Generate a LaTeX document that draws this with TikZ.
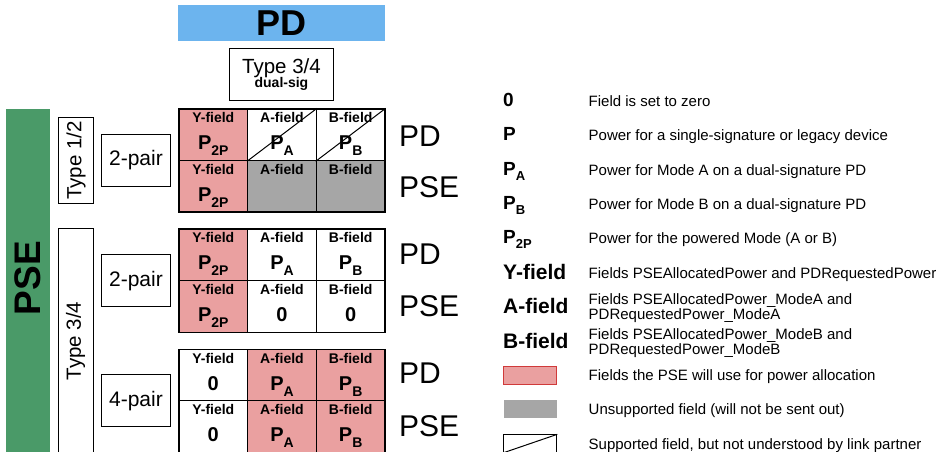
\documentclass[tikz,border=0pt]{standalone}
\usepackage{fontspec}
\setmainfont{Liberation Sans}
\usetikzlibrary{calc}
\definecolor{pdblue}{HTML}{6CB4EE}
\definecolor{psegreen}{HTML}{4A9A68}
\definecolor{allocred}{HTML}{EAA0A0}
\definecolor{unsgray}{HTML}{A6A6A6}
\definecolor{redline}{HTML}{D03A3A}
\newcommand{\fsz}[1]{\fontsize{#1}{#1}\selectfont}
\newcommand{\Psb}[1]{P\raisebox{-5.5pt}{\fsz{14}#1}}
\newcommand{\LPsb}[1]{P\raisebox{-5pt}{\fsz{13}#1}}
\tikzset{
  cellbox/.style={draw, line width=1.3pt, anchor=north west, inner sep=0pt,
    minimum width=68.67pt},
  redc/.style={fill=allocred},
  grayc/.style={fill=unsgray},
  whitec/.style={fill=white},
  flab/.style={anchor=base, inner sep=0pt, font=\fsz{14}\bfseries},
  fval/.style={anchor=base, inner sep=0pt, font=\fsz{20}\bfseries},
  plainbox/.style={draw, line width=0.9pt, anchor=north west, inner sep=0pt},
  rowlab/.style={anchor=west, inner sep=0pt, font=\fsz{30}},
  legsym/.style={anchor=base west, inner sep=0pt, font=\fsz{19}\bfseries},
  legfield/.style={anchor=base west, inner sep=0pt, font=\fsz{21}\bfseries},
  legtxt/.style={anchor=base west, inner sep=0pt, font=\fsz{15}, align=left},
  legbox/.style={anchor=north west, inner sep=0pt, minimum width=53pt, minimum height=17.5pt},
  slash/.style={line width=1pt}
}
% name, x, y, height, style, label, value
\newcommand{\gcell}[7]{%
  \node[cellbox,#5,minimum height=#4pt] (#1) at (#2,#3) {};
  \node[flab] (#1l) at ([yshift=-14.5pt]#1.north) {#6};
  \node[fval] (#1v) at ([yshift=-41.5pt]#1.north) {#7};
}
\begin{document}
\begin{tikzpicture}[x=1pt,y=-1pt]
\clip (0,0) rectangle (940,451);
\fill[white] (0,0) rectangle (940,451);

% PD header
\node[anchor=north west, fill=pdblue, minimum width=207pt, minimum height=35.7pt, inner sep=0pt,
  font=\fsz{36}\bfseries] (pdhead) at (177.7,5) {PD};
\node[plainbox, minimum width=103.4pt, minimum height=51.7pt] (t34pd) at (229.3,48.3) {};
\node[anchor=base, inner sep=0pt, font=\fsz{20.5}] (t34pdt) at ([yshift=-25.5pt]t34pd.north) {Type 3/4};
\node[anchor=base, inner sep=0pt, font=\fsz{14}\bfseries] (t34pds) at ([yshift=-39.5pt]t34pd.north) {dual-sig};

% PSE side bar
\node[anchor=north west, fill=psegreen, minimum width=44pt, minimum height=360pt, inner sep=0pt] (psebar) at (6,108.3) {};
\node[rotate=90, inner sep=0pt, font=\fsz{37}\bfseries] (psetxt) at (28,278) {PSE};

% Type boxes
\node[plainbox, minimum width=34.4pt, minimum height=86.6pt] (t12) at (58.3,116.7) {};
\node[rotate=90, inner sep=0pt, font=\fsz{20.5}] (t12t) at (t12.center) {Type 1/2};
\node[plainbox, minimum width=34.4pt, minimum height=260pt] (t34) at (58.3,228.3) {};
\node[rotate=90, inner sep=0pt, font=\fsz{20.5}] (t34t) at (75.5,341) {Type 3/4};

% pair boxes
\node[plainbox, minimum width=69pt, minimum height=51.7pt] (p2a) at (101,134) {};
\node[inner sep=0pt, font=\fsz{21}] (p2at) at (p2a.center) {2-pair};
\node[plainbox, minimum width=69pt, minimum height=51.7pt] (p2b) at (101,254.3) {};
\node[inner sep=0pt, font=\fsz{21}] (p2bt) at (p2b.center) {2-pair};
\node[plainbox, minimum width=69pt, minimum height=51.7pt] (p4) at (101,374.3) {};
\node[inner sep=0pt, font=\fsz{21}] (p4t) at (p4.center) {4-pair};

% Grid 1
\gcell{ga1}{178.3}{108.3}{51.7}{redc}{Y-field}{\Psb{2P}}
\gcell{ga2}{247}{108.3}{51.7}{whitec}{A-field}{\Psb{A}}
\gcell{ga3}{315.7}{108.3}{51.7}{whitec}{B-field}{\Psb{B}}
\gcell{ga4}{178.3}{160}{51.3}{redc}{Y-field}{\Psb{2P}}
\gcell{ga5}{247}{160}{51.3}{grayc}{A-field}{}
\gcell{ga6}{315.7}{160}{51.3}{grayc}{B-field}{}
\draw[slash] (ga2.south west) -- (ga2.north east);
\draw[slash] (ga3.south west) -- (ga3.north east);

% Grid 2
\gcell{gb1}{178.3}{228.3}{51.7}{redc}{Y-field}{\Psb{2P}}
\gcell{gb2}{247}{228.3}{51.7}{whitec}{A-field}{\Psb{A}}
\gcell{gb3}{315.7}{228.3}{51.7}{whitec}{B-field}{\Psb{B}}
\gcell{gb4}{178.3}{280}{51.7}{redc}{Y-field}{\Psb{2P}}
\gcell{gb5}{247}{280}{51.7}{whitec}{A-field}{0}
\gcell{gb6}{315.7}{280}{51.7}{whitec}{B-field}{0}

% Grid 3
\gcell{gc1}{178.3}{349}{51}{whitec}{Y-field}{0}
\gcell{gc2}{247}{349}{51}{redc}{A-field}{\Psb{A}}
\gcell{gc3}{315.7}{349}{51}{redc}{B-field}{\Psb{B}}
\gcell{gc4}{178.3}{400}{51.7}{whitec}{Y-field}{0}
\gcell{gc5}{247}{400}{51.7}{redc}{A-field}{\Psb{A}}
\gcell{gc6}{315.7}{400}{51.7}{redc}{B-field}{\Psb{B}}

% Row labels
\node[rowlab] (ra1) at (399,136) {PD};
\node[rowlab] (ra2) at (399,186.7) {PSE};
\node[rowlab] (rb1) at (399,254.5) {PD};
\node[rowlab] (rb2) at (399,306) {PSE};
\node[rowlab] (rc1) at (399,373.5) {PD};
\node[rowlab] (rc2) at (399,426) {PSE};

% Legend
\node[legsym] (l0) at (503,106.5) {0};
\node[legtxt] (l0t) at (588.5,106.5) {Field is set to zero};
\node[legsym] (l1) at (503,140.8) {P};
\node[legtxt] (l1t) at (588.5,140.8) {Power for a single-signature or legacy device};
\node[legsym] (l2) at (503,175) {\LPsb{A}};
\node[legtxt] (l2t) at (588.5,175) {Power for Mode A on a dual-signature PD};
\node[legsym] (l3) at (503,209) {\LPsb{B}};
\node[legtxt] (l3t) at (588.5,209) {Power for Mode B on a dual-signature PD};
\node[legsym] (l4) at (503,243.3) {\LPsb{2P}};
\node[legtxt] (l4t) at (588.5,243.3) {Power for the powered Mode (A or B)};
\node[legfield] (l5) at (503,279.5) {Y-field};
\node[legtxt] (l5t) at (588.5,278.5) {Fields PSEAllocatedPower and PDRequestedPower};
\node[legfield] (l6) at (503,313.5) {A-field};
\node[legtxt] (l6t) at (588.5,304.8) {Fields PSEAllocatedPower\_ModeA and};
\node[legtxt] (l6u) at (588.5,319.8) {PDRequestedPower\_ModeA};
\node[legfield] (l7) at (503,348) {B-field};
\node[legtxt] (l7t) at (588.5,339) {Fields PSEAllocatedPower\_ModeB and};
\node[legtxt] (l7u) at (588.5,354) {PDRequestedPower\_ModeB};
\node[legbox, fill=allocred, draw=redline, line width=1pt] (lb1) at (503.3,366) {};
\node[legtxt] (lb1t) at (588.5,380) {Fields the PSE will use for power allocation};
\node[legbox, fill=unsgray] (lb2) at (503.3,400) {};
\node[legtxt] (lb2t) at (588.5,414) {Unsupported field (will not be sent out)};
\node[legbox, draw, line width=1pt] (lb3) at (503.3,434.3) {};
\draw[slash] (lb3.south west) -- (lb3.north east);
\node[legtxt] (lb3t) at (588.5,449) {Supported field, but not understood by link partner};
\end{tikzpicture}
\end{document}
